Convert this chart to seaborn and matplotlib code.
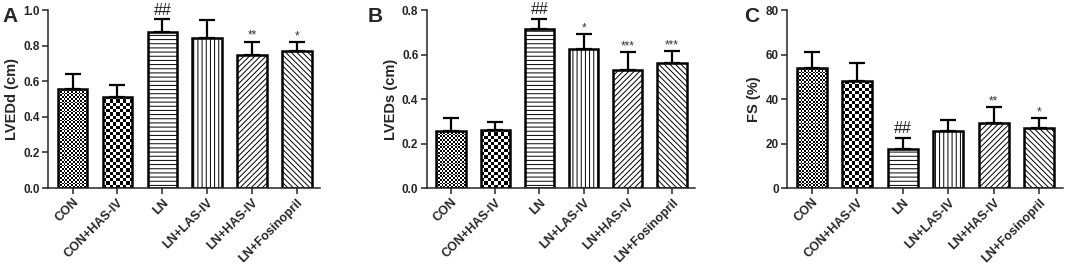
import numpy as np
import pandas as pd
import matplotlib
matplotlib.use('Agg')
import matplotlib.pyplot as plt
import seaborn as sns

groups = ['CON', 'CON+HAS-IV', 'LN', 'LN+LAS-IV', 'LN+HAS-IV', 'LN+Fosinopril']

lvedd_mean = [0.555, 0.512, 0.875, 0.842, 0.750, 0.770]
lvedd_sd = [0.087, 0.066, 0.073, 0.100, 0.073, 0.050]
lvedd_marks = ['', '', '##', '', '**', '*']

lveds_mean = [0.257, 0.263, 0.717, 0.625, 0.530, 0.562]
lveds_sd = [0.057, 0.034, 0.045, 0.067, 0.080, 0.054]
lveds_marks = ['', '', '##', '*', '***', '***']

fs_mean = [53.8, 48.1, 17.6, 25.5, 29.2, 27.0]
fs_sd = [7.5, 8.3, 5.0, 4.9, 7.2, 4.5]
fs_marks = ['', '', '##', '', '**', '*']

sns.set_style('ticks')
plt.rcParams['font.family'] = ['Liberation Sans', 'DejaVu Sans']
plt.rcParams['hatch.linewidth'] = 0.7

hatches = [None, None, '----', '||||', '//////', '\\\\\\\\\\\\']
checks = {0: 1.8, 1: 3.3}  # checkerboard cell size in px for the CON bars


def add_checks(ax, bar, cell):
    ext = bar.get_window_extent()
    nx = max(1, int(round(ext.width / cell)))
    ny = max(1, int(round(ext.height / cell)))
    yy, xx = np.indices((ny, nx))
    board = ((xx + yy) % 2).astype(float)
    x0, y0 = bar.get_x(), bar.get_y()
    im = ax.imshow(board, cmap='gray', vmin=0, vmax=1, aspect='auto',
                   interpolation='nearest', origin='lower',
                   extent=[x0, x0 + bar.get_width(), y0, y0 + bar.get_height()],
                   zorder=bar.get_zorder() + 0.1)
    im.set_clip_path(bar)
    bar.set_facecolor('none')
    bar.set_zorder(bar.get_zorder() + 0.2)


def panel(rect, means, sds, marks, ylabel, ymax, yticks, fmt):
    ax = fig.add_axes(rect)
    df = pd.DataFrame({'group': groups, 'value': means})
    sns.barplot(data=df, x='group', y='value', ax=ax, color='white',
                edgecolor='black', linewidth=1.8, width=0.66, errorbar=None,
                saturation=1)
    ax.errorbar(range(len(groups)), means, yerr=[np.zeros(len(sds)), sds],
                fmt='none', ecolor='black', elinewidth=1.6, capsize=6,
                capthick=1.6, zorder=1)
    ax.set_xlim(-0.55, 5.52)
    ax.set_ylim(0, ymax)
    ax.set_yticks(yticks)
    ax.set_yticklabels([fmt.format(t) for t in yticks], fontsize=8.5, fontweight='bold')
    ax.set_xticks(range(len(groups)))
    ax.set_xticklabels(groups, rotation=45, ha='right', rotation_mode='anchor',
                       fontsize=9, fontweight='bold')
    ax.set_xlabel('')
    ax.set_ylabel(ylabel, fontsize=10.5, fontweight='bold', labelpad=3)
    sns.despine(ax=ax)
    for s in ['left', 'bottom']:
        ax.spines[s].set_linewidth(1.1)
    ax.tick_params(axis='both', width=1.1, length=4, pad=2)
    bars = list(ax.patches)
    for i, bar in enumerate(bars):
        if hatches[i]:
            bar.set_hatch(hatches[i])
    for i, cell in checks.items():
        add_checks(ax, bars[i], cell)
    ax.set_xlim(-0.55, 5.52)
    ax.set_ylim(0, ymax)
    for i, m in enumerate(marks):
        if not m:
            continue
        if '#' in m:
            ax.annotate(m, (i, means[i] + sds[i]), xytext=(0, 1),
                        textcoords='offset points', ha='center', va='bottom',
                        fontsize=11.5, color='#222222')
        else:
            ax.annotate(m, (i, means[i] + sds[i]), xytext=(0, 0),
                        textcoords='offset points', ha='center', va='bottom',
                        fontsize=8.5, color='#333333')
    return ax


fig = plt.figure(figsize=(10.65, 2.7), dpi=100)

panel([0.0451, 0.3037, 0.2554, 0.659], lvedd_mean, lvedd_sd, lvedd_marks,
      'LVEDd (cm)', 1.0, [0.0, 0.2, 0.4, 0.6, 0.8, 1.0], '{:.1f}')
panel([0.4006, 0.3037, 0.2520, 0.659], lveds_mean, lveds_sd, lveds_marks,
      'LVEDs (cm)', 0.8, [0.0, 0.2, 0.4, 0.6, 0.8], '{:.1f}')
panel([0.7390, 0.3037, 0.2590, 0.659], fs_mean, fs_sd, fs_marks,
      'FS (%)', 80, [0, 20, 40, 60, 80], '{:.0f}')

for x, letter in [(0.002, 'A'), (0.345, 'B'), (0.699, 'C')]:
    fig.text(x, 0.975, letter, fontsize=15, fontweight='bold', va='top', ha='left')

fig.savefig('out.png', dpi=100)
